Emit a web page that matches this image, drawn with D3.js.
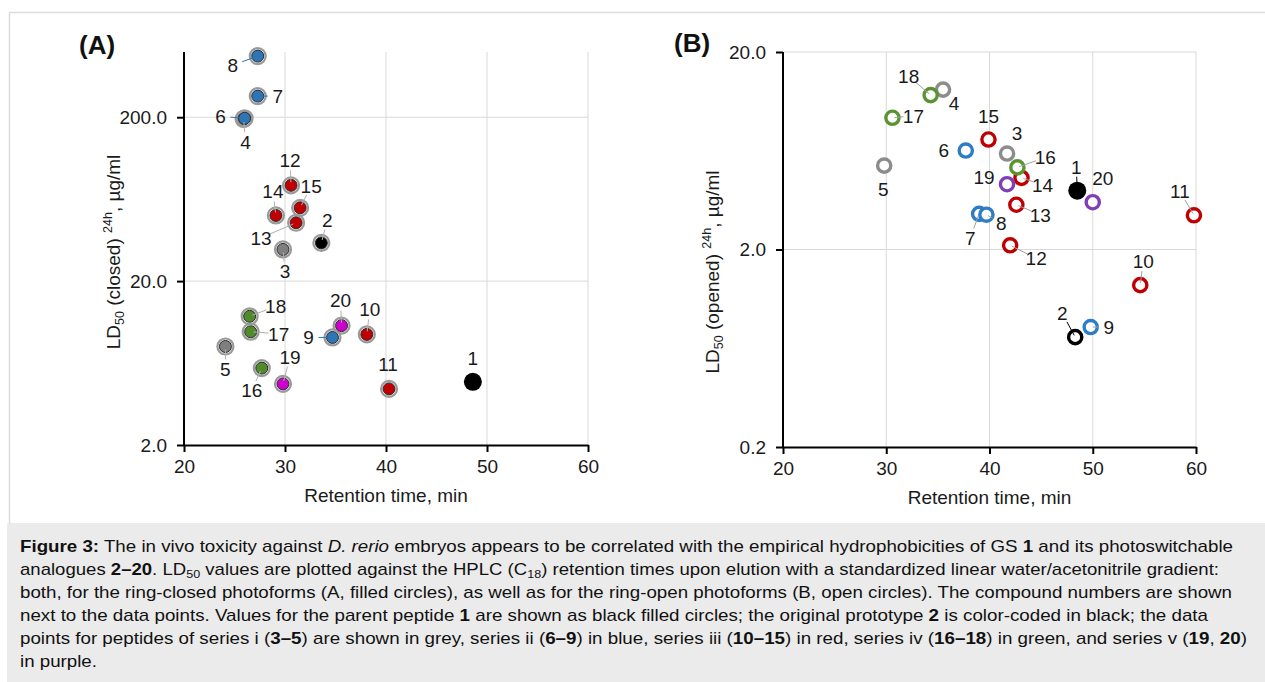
<!DOCTYPE html>
<html>
<head>
<meta charset="utf-8">
<script src="https://cdn.jsdelivr.net/npm/d3@7"></script>
<style>
  body { margin: 0; background: #fff; font-family: "Liberation Sans", Arial, sans-serif; }
  #fig { position: absolute; left: 0; top: 0; }
  #caption { position: absolute; left: 7px; top: 523px; width: 1258px; height: 159px; background: #ebebeb; }
  #caption .ln { position: absolute; left: 13px; white-space: nowrap; font-size: 17px; color: #111; transform-origin: 0 0; }
  #caption sub { font-size: 11.5px; vertical-align: -3px; line-height: 0; }
</style>
</head>
<body>
<svg id="fig" width="1265" height="682"></svg>
<div id="caption"></div>
<script>
// Data: compound numbers, retention times (min), LD50 (ug/ml)
var compounds = ["1","2","3","4","5","6","7","8","9","10","11","12","13","14","15","16","17","18","19","20"];
var series = ["parent","proto","i","i","i","ii","ii","ii","ii","iii","iii","iii","iii","iii","iii","iv","iv","iv","v","v"];

// (A) ring-closed photoforms
var rtClosed   = [48.6, 33.6, 29.8, 25.9, 24.1, 26.0, 27.3, 27.3, 34.7, 38.1, 40.3, 30.6, 31.1, 29.1, 31.5, 27.7, 26.6, 26.5, 29.8, 35.6];
var ld50Closed = [4.86, 34.2, 31.2, 195, 7.98, 197, 269, 472, 9.06, 9.46, 4.40, 76.8, 45.4, 50.3, 56.0, 5.89, 9.82, 12.2, 4.72, 10.7];

// (B) ring-open photoforms
var rtOpened   = [48.5, 48.3, 41.7, 35.5, 29.8, 37.7, 39.0, 39.7, 49.8, 54.6, 59.8, 42.0, 42.6, 43.1, 39.9, 42.7, 30.6, 34.3, 41.7, 50.0];
var ld50Opened = [3.97, 0.72, 6.12, 12.9, 5.32, 6.34, 3.03, 3.00, 0.81, 1.32, 2.98, 2.10, 3.37, 4.61, 7.21, 5.21, 9.29, 12.1, 4.28, 3.47];

var xTicks = [20, 30, 40, 50, 60];
var yTicksA = [2, 20, 200];
var yTicksB = [0.2, 2, 20];

// colours
var colClosed = {parent: "#000", proto: "#000", i: "#7f7f7f", ii: "#2e75b6", iii: "#c00000", iv: "#4f8a2b", v: "#cc00cc"};
var colOpened = {parent: "#000", proto: "#000", i: "#8c8c8c", ii: "#2e7cc4", iii: "#c00000", iv: "#5a9432", v: "#7f3fb5"};

// label placement [dx, dy, leader?] relative to point (layout only)
var labA = {1:[0,-24,0], 2:[6,-23,1], 3:[2,22,1], 4:[2,23,1], 5:[0,23,1], 6:[-24,-2,1], 7:[20,0,1], 8:[-25,9,1],
  9:[-24,0,1], 10:[3,-25,1], 11:[-1,-25,0], 12:[-1,-25,1], 13:[-35,15,1], 14:[-3,-24,1], 15:[11,-22,1],
  16:[-10,22,1], 17:[28,2,1], 18:[26,-10,1], 19:[7,-27,1], 20:[-1,-25,1]};
var labB = {1:[-1,-24,1], 2:[-13,-24,1], 3:[10,-20,0], 4:[11,14,0], 5:[-1,24,0], 6:[-22,0,0], 7:[-9,24,1],
  8:[15,8,1], 9:[18,0,1], 10:[3,-24,1], 11:[-14,-24,1], 12:[26,13,1], 13:[24,10,1], 14:[21,7,1],
  15:[0,-23,0], 16:[28,-10,1], 17:[21,-2,1], 18:[-22,-19,1], 19:[-23,-7,0], 20:[10,-24,0]};

var svg = d3.select("#fig");
var font = "'Liberation Sans', Arial, sans-serif";
var fs = 19;

// frame around the figure
svg.append("path").attr("d", "M9.5,523 V12.5 H1265").attr("fill", "none").attr("stroke", "#dcdcdc").attr("stroke-width", 1.5);

function panel(opt) {
  var x = d3.scaleLinear().domain([20, 60]).range([opt.left, opt.right]);
  var y = d3.scaleLog().domain(opt.yDomain).range([opt.bottom, opt.top]);
  var g = svg.append("g");

  // grid
  g.selectAll(".hg").data(opt.yTicks.filter(function(v){ return v > opt.yDomain[0]; })).enter().append("line")
    .attr("x1", opt.left).attr("x2", opt.right).attr("y1", d => y(d)).attr("y2", d => y(d))
    .attr("stroke", "#d9d9d9").attr("stroke-width", 1);
  g.selectAll(".vg").data(xTicks.slice(1)).enter().append("line")
    .attr("x1", d => x(d)).attr("x2", d => x(d)).attr("y1", opt.top).attr("y2", opt.bottom)
    .attr("stroke", "#d9d9d9").attr("stroke-width", 1);

  // axes
  var ax = g.append("g").attr("transform", "translate(0," + opt.bottom + ")")
    .call(d3.axisBottom(x).tickValues(xTicks).tickSize(7).tickSizeOuter(0).tickPadding(8).tickFormat(d3.format("d")));
  var ay = g.append("g").attr("transform", "translate(" + opt.left + ",0)")
    .call(d3.axisLeft(y).tickValues(opt.yTicks).tickSize(7).tickSizeOuter(0).tickPadding(10).tickFormat(d3.format(".1f")));
  [ax, ay].forEach(function(a) {
    a.select(".domain").attr("stroke", "#000").attr("stroke-width", 2);
    a.selectAll(".tick line").attr("stroke", "#000").attr("stroke-width", 2);
    a.selectAll("text").attr("font-family", font).attr("font-size", fs).attr("fill", "#1a1a1a");
  });
  ay.select(".domain").attr("d", "M0," + opt.bottom + "V" + opt.top);

  // axis titles
  g.append("text").attr("x", (opt.left + opt.right) / 2).attr("y", opt.bottom + 57)
    .attr("text-anchor", "middle").attr("font-family", font).attr("font-size", fs).attr("fill", "#1a1a1a")
    .text("Retention time, min");
  var yt = g.append("text").attr("transform", "translate(" + opt.yTitleX + "," + opt.yTitleY + ") rotate(-90)")
    .attr("text-anchor", "middle").attr("font-family", font).attr("font-size", fs).attr("fill", "#1a1a1a");
  yt.append("tspan").text("LD");
  yt.append("tspan").attr("font-size", 12.5).attr("dy", 4).text("50");
  yt.append("tspan").attr("dy", -4).text(" (" + opt.form + ") ");
  yt.append("tspan").attr("font-size", 12.5).attr("dy", -8).text("24h");
  yt.append("tspan").attr("dy", 8).text(", µg/ml");

  g.append("text").attr("x", opt.tagX).attr("y", opt.tagY).attr("font-family", font)
    .attr("font-weight", "bold").attr("font-size", 26).attr("fill", "#111").text(opt.tag);

  var pts = compounds.map(function(c, i) {
    return {c: c, s: series[i], px: x(opt.rt[i]), py: y(opt.ld[i]), lab: opt.lab[c]};
  });

  // points
  pts.forEach(function(p) {
    var col = opt.colors[p.s];
    if (p.s === "parent") {
      g.append("circle").attr("cx", p.px).attr("cy", p.py).attr("r", 9).attr("fill", "#000");
    } else if (opt.filled) {
      g.append("circle").attr("cx", p.px).attr("cy", p.py).attr("r", 8)
        .attr("fill", "none").attr("stroke", "#9a9a9a").attr("stroke-width", 2.2);
      g.append("circle").attr("cx", p.px).attr("cy", p.py).attr("r", 6)
        .attr("fill", col).attr("stroke", "#2a2a2a").attr("stroke-width", 1);
    } else {
      g.append("circle").attr("cx", p.px).attr("cy", p.py).attr("r", 6.6)
        .attr("fill", "#fff").attr("stroke", col).attr("stroke-width", 3.4);
    }
  });

  // leaders and labels
  pts.forEach(function(p) {
    var l = p.lab, lx = p.px + l[0], ly = p.py + l[1];
    if (l[2]) {
      var d = Math.hypot(l[0], l[1]), ux = l[0] / d, uy = l[1] / d;
      g.append("line").attr("x1", p.px + ux * opt.leadStart).attr("y1", p.py + uy * opt.leadStart)
        .attr("x2", lx - ux * 10).attr("y2", ly - uy * 10)
        .attr("stroke", opt.leaderColor(p.s)).attr("stroke-width", 1);
    }
    g.append("text").attr("x", lx).attr("y", ly).attr("dy", "0.36em").attr("text-anchor", "middle")
      .attr("font-family", font).attr("font-size", fs).attr("fill", "#1a1a1a").text(p.c);
  });
}

panel({left: 184, right: 588, top: 52, bottom: 445, yDomain: [2, 500], yTicks: yTicksA,
  rt: rtClosed, ld: ld50Closed, lab: labA, colors: colClosed, filled: true, form: "closed",
  yTitleX: 120, yTitleY: 252, tag: "(A)", tagX: 79, tagY: 54, leadStart: 3,
  leaderColor: function(s) { return s === "ii" ? "#2e75b6" : "#b0b0b0"; }});

panel({left: 783, right: 1196, top: 52, bottom: 447, yDomain: [0.2, 20], yTicks: yTicksB,
  rt: rtOpened, ld: ld50Opened, lab: labB, colors: colOpened, filled: false, form: "opened",
  yTitleX: 719, yTitleY: 272, tag: "(B)", tagX: 674, tagY: 52, leadStart: 2,
  leaderColor: function(s) { return (s === "parent" || s === "proto") ? "#000" : "#a0a0a0"; }});

// caption
var captionLines = [
  "<b>Figure 3:</b> The in vivo toxicity against <i>D. rerio</i> embryos appears to be correlated with the empirical hydrophobicities of GS <b>1</b> and its photoswitchable",
  "analogues <b>2–20</b>. LD<sub>50</sub> values are plotted against the HPLC (C<sub>18</sub>) retention times upon elution with a standardized linear water/acetonitrile gradient:",
  "both, for the ring-closed photoforms (A, filled circles), as well as for the ring-open photoforms (B, open circles). The compound numbers are shown",
  "next to the data points. Values for the parent peptide <b>1</b> are shown as black filled circles; the original prototype <b>2</b> is color-coded in black; the data",
  "points for peptides of series i (<b>3–5</b>) are shown in grey, series ii (<b>6–9</b>) in blue, series iii (<b>10–15</b>) in red, series iv (<b>16–18</b>) in green, and series v (<b>19</b>, <b>20</b>)",
  "in purple."
];
var lineTargets = [1213, 1199, 1212, 1188, 1227, 0];
var cap = d3.select("#caption");
var scales = [];
captionLines.forEach(function(t, i) {
  var ln = cap.append("div").attr("class", "ln").style("top", (14 + i * 23) + "px").html(t);
  var w = ln.node().getBoundingClientRect().width;
  if (lineTargets[i]) scales.push(lineTargets[i] / w);
  ln.attr("data-w", w);
});
var sc = d3.mean(scales);
cap.selectAll(".ln").style("transform", function(d, i) {
  return "scaleX(" + (lineTargets[i] ? lineTargets[i] / (+this.getAttribute("data-w")) : sc) + ")";
});
</script>
</body>
</html>
